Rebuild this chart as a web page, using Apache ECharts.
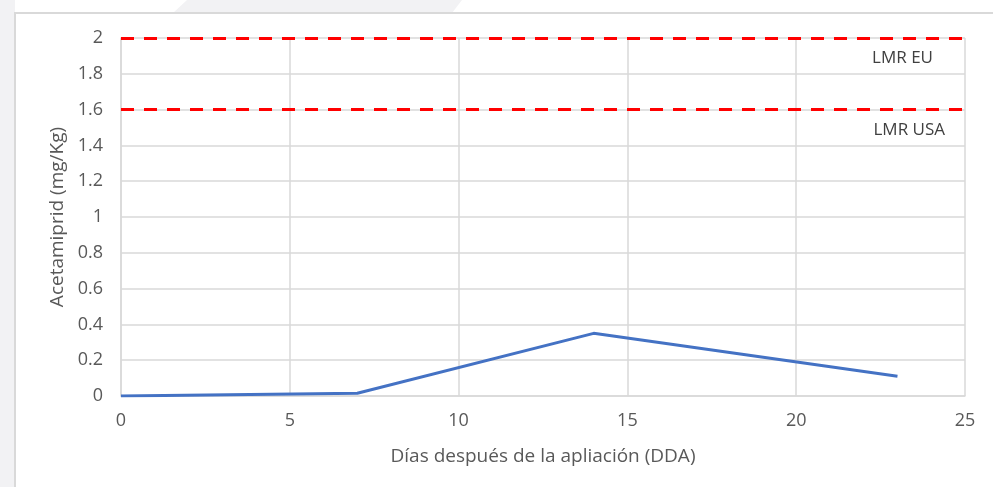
<!DOCTYPE html>
<html><head>
<meta charset="UTF-8">
<title>Acetamiprid</title>
<script type="text/javascript" src="https://cdn.jsdelivr.net/npm/echarts@6/dist/echarts.min.js"></script>
<style>
html,body{margin:0;padding:0;background:#fff;}
#main{width:993px;height:487px;}
</style>
</head>
<body>
<div id="main"></div>
<script type="text/javascript">
// datos
var dias = [0, 7, 14, 23];
var residuo = [0, 0.015, 0.35, 0.11];
var limites = [2, 1.6];
var limitesNombre = ['LMR EU', 'LMR USA'];
var xTicks = {min: 0, max: 25, interval: 5};
var yTicks = {min: 0, max: 2, interval: 0.2};

var puntos = [];
for (var i = 0; i < dias.length; i++) {
	puntos.push([dias[i], residuo[i]]);
}
var lineas = [];
for (var j = 0; j < limites.length; j++) {
	lineas.push({
		yAxis: limites[j],
		name: limitesNombre[j],
		label: {padding: j == 0 ? [0, 12, 0, 0] : 0}
	});
}

var gris = '#d9d9d9';
var fuente = '"Open Sans", "Noto Sans", sans-serif';
var chart = echarts.init(document.getElementById('main'));
chart.setOption({
	animation: false,
	textStyle: {fontFamily: fuente},
	graphic: [
		{type: 'rect', z: -10, shape: {x: 0, y: 0, width: 15, height: 487}, style: {fill: '#f2f2f4'}},
		{type: 'polygon', z: -10, shape: {points: [[187, 0], [462, 0], [452, 13], [173, 13]]}, style: {fill: '#f2f2f4'}},
		{type: 'rect', z: -9, shape: {x: 15, y: 13, width: 1000, height: 500}, style: {fill: 'none', stroke: gris, lineWidth: 2}}
	],
	grid: {left: 121, right: 28, top: 38, bottom: 91},
	xAxis: {
		type: 'value', min: xTicks.min, max: xTicks.max, interval: xTicks.interval,
		name: 'Días después de la apliación (DDA)', nameLocation: 'middle', nameGap: 51,
		nameTextStyle: {color: '#595959', fontSize: 19, fontFamily: fuente},
		axisLine: {lineStyle: {color: gris, width: 1.5}},
		axisTick: {show: false},
		axisLabel: {color: '#595959', fontSize: 18, margin: 16, fontFamily: fuente},
		splitLine: {lineStyle: {color: gris, width: 1.5}}
	},
	yAxis: {
		type: 'value', min: yTicks.min, max: yTicks.max, interval: yTicks.interval,
		name: 'Acetamiprid (mg/Kg)', nameLocation: 'middle', nameGap: 47,
		nameTextStyle: {color: '#595959', fontSize: 19, fontFamily: fuente},
		axisLine: {show: true, lineStyle: {color: gris, width: 1.5}},
		axisTick: {show: false},
		axisLabel: {color: '#595959', fontSize: 18, margin: 18, fontFamily: fuente},
		splitLine: {lineStyle: {color: gris, width: 1.5}}
	},
	series: [{
		type: 'line',
		data: puntos,
		symbol: 'none',
		lineStyle: {color: '#4472C4', width: 3},
		markLine: {
			silent: true,
			symbol: ['none', 'none'],
			lineStyle: {color: '#ff0000', width: 3, type: [13, 10]},
			label: {
				position: 'insideEndBottom', formatter: '{b}', distance: [20, 12],
				color: '#404040', fontSize: 17, fontFamily: fuente
			},
			data: lineas
		}
	}]
});
</script>
</body>
</html>
